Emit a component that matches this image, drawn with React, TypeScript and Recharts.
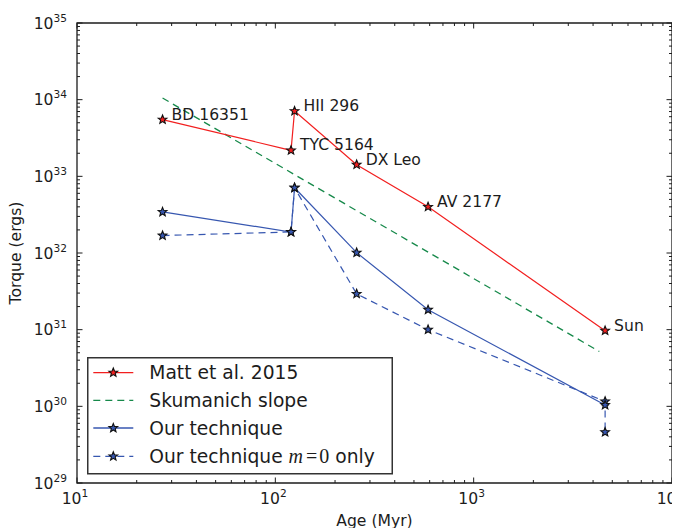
import React from "react";
import { LineChart, Line, XAxis, YAxis, ReferenceArea, Legend, LabelList } from "recharts";

// ---- data ----
const ages = [27, 120, 125, 257, 589, 4600];
const starNames = ["BD 16351", "TYC 5164", "HII 296", "DX Leo", "AV 2177", "Sun"];
const mattTorque = [5.5e33, 2.18e33, 7.1e33, 1.42e33, 4.0e32, 9.7e30];
const ourTorque = [3.43e32, 1.88e32, 7.1e32, 1.01e32, 1.82e31, 1.04e30];
const m0Ages = [27, 120, 125, 257, 589, 4600, 4600];
const m0Torque = [1.69e32, 1.88e32, 7.1e32, 2.93e31, 1.0e31, 1.16e30, 4.6e29];
const skumAges = [27, 4300];
const skumTorque = [1.05e34, 5.2e30];

const xMajor = [10, 100, 1000, 10000];
const xMajorExp = ["1", "2", "3", "4"];
const yMajor = [1e29, 1e30, 1e31, 1e32, 1e33, 1e34, 1e35];
const yMajorExp = ["29", "30", "31", "32", "33", "34", "35"];
const minorMult = [2, 3, 4, 5, 6, 7, 8, 9];

const seriesNames = ["Matt et al. 2015", "Skumanich slope", "Our technique", "Our technique"];

// ---- styling ----
const RED = "#f21f1f";
const GREEN = "#16894a";
const BLUE = "#3757b0";
const INK = "#1c1c1c";
const FONT = "DejaVu Sans";

const W = 672;
const H = 520;
const PLOT_LEFT = 69;
const PLOT_RIGHT = 664;
const PLOT_TOP = 15;
const PLOT_BOTTOM = 475;

const mattRows = ages.map((a, i) => ({ age: a, torque: mattTorque[i], name: starNames[i] }));
const ourRows = ages.map((a, i) => ({ age: a, torque: ourTorque[i] }));
const m0Rows = m0Ages.map((a, i) => ({ age: a, torque: m0Torque[i] }));
const skumRows = skumAges.map((a, i) => ({ age: a, torque: skumTorque[i] }));

const xMinor = xMajor.slice(0, -1).flatMap((d) => minorMult.map((m) => d * m));
const yMinor = yMajor.slice(0, -1).flatMap((d) => minorMult.map((m) => d * m));
const xTicks = [...xMajor, ...xMinor].sort((a, b) => a - b);
const yTicks = [...yMajor, ...yMinor].sort((a, b) => a - b);

function starPoints(cx: number, cy: number, R: number, r: number) {
  const pts: string[] = [];
  for (let i = 0; i < 10; i++) {
    const rad = i % 2 === 0 ? R : r;
    const ang = -Math.PI / 2 + (i * Math.PI) / 5;
    pts.push(`${(cx + rad * Math.cos(ang)).toFixed(2)},${(cy + rad * Math.sin(ang)).toFixed(2)}`);
  }
  return pts.join(" ");
}

const Star = ({ cx, cy, fill }: { cx: number; cy: number; fill: string }) => (
  <polygon points={starPoints(cx, cy, 4.6, 2.0)} fill={fill} stroke="#111" strokeWidth={1.1} strokeLinejoin="miter" />
);

const makeDot = (fill: string) => (props: any) => {
  const { cx, cy, index } = props;
  if (cx == null || cy == null) return <g key={`d-${index}`} />;
  return <Star key={`d-${fill}-${index}`} cx={cx} cy={cy} fill={fill} />;
};

const XTick = (props: any) => {
  const { payload } = props;
  const x = payload.coordinate;
  const mi = xMajor.indexOf(payload.value);
  const len = mi >= 0 ? 5.5 : 3;
  return (
    <g>
      <line x1={x} x2={x} y1={PLOT_BOTTOM} y2={PLOT_BOTTOM - len} stroke={INK} strokeWidth={1} />
      <line x1={x} x2={x} y1={PLOT_TOP} y2={PLOT_TOP + len} stroke={INK} strokeWidth={1} />
      {mi >= 0 && (
        <text x={x - 2} y={PLOT_BOTTOM + 20.5} textAnchor="middle" fontFamily={FONT} fontSize={15.6} fill={INK}>
          <tspan>10</tspan>
          <tspan dy={-7} fontSize={10.6}>{xMajorExp[mi]}</tspan>
        </text>
      )}
    </g>
  );
};

const YTick = (props: any) => {
  const { payload } = props;
  const y = payload.coordinate;
  const mi = yMajor.indexOf(payload.value);
  const len = mi >= 0 ? 5.5 : 3;
  return (
    <g>
      <line x1={PLOT_LEFT} x2={PLOT_LEFT + len} y1={y} y2={y} stroke={INK} strokeWidth={1} />
      <line x1={PLOT_RIGHT} x2={PLOT_RIGHT - len} y1={y} y2={y} stroke={INK} strokeWidth={1} />
      {mi >= 0 && (
        <text x={PLOT_LEFT - 10} y={y + 5.6} textAnchor="end" fontFamily={FONT} fontSize={15.6} fill={INK}>
          <tspan>10</tspan>
          <tspan dy={-7} fontSize={10.6}>{yMajorExp[mi]}</tspan>
        </text>
      )}
    </g>
  );
};

const NameLabel = (props: any) => {
  const x = props.x ?? props.viewBox?.x;
  const y = props.y ?? props.viewBox?.y;
  return (
    <text x={x + 9} y={y} fontFamily={FONT} fontSize={15.6} fill={INK}>
      {props.value}
    </text>
  );
};

const LegendBox = () => {
  const rows = [
    { color: RED, dash: undefined as string | undefined, marker: true, fill: RED },
    { color: GREEN, dash: "7 5", marker: false, fill: GREEN },
    { color: BLUE, dash: undefined, marker: true, fill: BLUE },
    { color: BLUE, dash: "7 5", marker: true, fill: BLUE },
  ];
  const ys = [15.6, 43.3, 71, 99.3];
  return (
    <svg width={306} height={118} style={{ display: "block", overflow: "visible" }}>
      <rect x={0.75} y={0.75} width={304.5} height={116} fill="#fff" stroke="#333" strokeWidth={1.5} />
      {rows.map((r, i) => (
        <g key={i}>
          <line x1={6.3} x2={46.3} y1={ys[i]} y2={ys[i]} stroke={r.color} strokeWidth={1.3} strokeDasharray={r.dash} />
          {r.marker && <Star cx={26.3} cy={ys[i]} fill={r.fill} />}
          <text x={62.3} y={ys[i] + 6.6} fontFamily={FONT} fontSize={18.7} fill={INK}>
            {seriesNames[i]}
            {i === 3 && (
              <>
                <tspan> </tspan>
                <tspan fontFamily="Liberation Serif" fontStyle="italic" fontSize={20}>m</tspan>
                <tspan fontFamily="Liberation Serif" fontSize={20} dx={3}>=</tspan>
                <tspan fontFamily="Liberation Serif" fontSize={20} dx={2}>0</tspan>
                <tspan> only</tspan>
              </>
            )}
          </text>
        </g>
      ))}
    </svg>
  );
};

export default function App() {
  return (
    <div style={{ width: W, height: H }}>
      <LineChart width={W} height={H} margin={{ top: PLOT_TOP, right: W - PLOT_RIGHT, left: 0, bottom: 0 }}>
        <XAxis
          dataKey="age"
          type="number"
          scale="log"
          domain={[10, 10000]}
          allowDataOverflow
          ticks={xTicks}
          interval={0}
          tick={<XTick />}
          tickLine={false}
          axisLine={false}
          height={H - PLOT_BOTTOM}
          label={(p: any) => {
            const vb = p.viewBox || { x: PLOT_LEFT, width: PLOT_RIGHT - PLOT_LEFT };
            return (
              <text x={vb.x + vb.width / 2} y={517.5} textAnchor="middle" fontFamily={FONT} fontSize={15.6} fill={INK}>
                Age (Myr)
              </text>
            );
          }}
        />
        <YAxis
          dataKey="torque"
          type="number"
          scale="log"
          domain={[1e29, 1e35]}
          allowDataOverflow
          ticks={yTicks}
          interval={0}
          tick={<YTick />}
          tickLine={false}
          axisLine={false}
          width={PLOT_LEFT}
          label={(p: any) => {
            const cy = (PLOT_TOP + PLOT_BOTTOM) / 2;
            return (
              <text x={13.4} y={cy} transform={`rotate(-90, 13.4, ${cy})`} textAnchor="middle" fontFamily={FONT} fontSize={15.6} fill={INK}>
                Torque (ergs)
              </text>
            );
          }}
        />
        <ReferenceArea x1={10} x2={10000} y1={1e29} y2={1e35} fill="none" stroke={INK} strokeWidth={1.3} ifOverflow="visible" />
        <Line data={skumRows} dataKey="torque" stroke={GREEN} strokeWidth={1.3} strokeDasharray="7 5" dot={false} activeDot={false} isAnimationActive={false} />
        <Line data={m0Rows} dataKey="torque" stroke={BLUE} strokeWidth={1.2} strokeDasharray="7 5" dot={makeDot(BLUE)} activeDot={false} isAnimationActive={false} />
        <Line data={ourRows} dataKey="torque" stroke={BLUE} strokeWidth={1.2} dot={makeDot(BLUE)} activeDot={false} isAnimationActive={false} />
        <Line data={mattRows} dataKey="torque" stroke={RED} strokeWidth={1.2} dot={makeDot(RED)} activeDot={false} isAnimationActive={false}>
          <LabelList dataKey="name" content={<NameLabel />} />
        </Line>
        <Legend
          layout="vertical"
          align="center"
          verticalAlign="middle"
          content={() => <LegendBox />}
          wrapperStyle={{ position: "absolute", left: 78.7, top: 348.7, width: 306, height: 118, right: "auto", bottom: "auto" }}
        />
      </LineChart>
    </div>
  );
}
